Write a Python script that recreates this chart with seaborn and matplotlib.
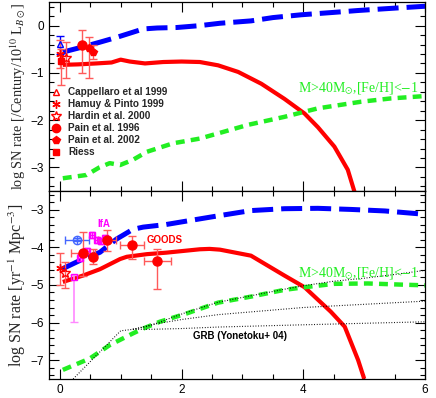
import numpy as np
import pandas as pd
import matplotlib
matplotlib.use("Agg")
import matplotlib.pyplot as plt
from matplotlib.ticker import MultipleLocator
from matplotlib.lines import Line2D
import seaborn as sns

# ---------------- data ----------------
# top panel curves
top_blue_x = [0.05, 0.38, 0.66, 0.93, 1.2, 1.37, 1.6, 1.92, 2.3, 2.63, 3.14, 3.5, 3.97, 4.5, 4.9, 5.5, 6.0]
top_blue_y = [-0.56, -0.45, -0.35, -0.25, -0.14, -0.07, -0.05, -0.04, 0.0, 0.05, 0.1, 0.17, 0.23, 0.28, 0.32, 0.37, 0.41]
top_red_x = [0.05, 0.3, 0.6, 0.85, 1.0, 1.15, 1.4, 1.7, 2.0, 2.3, 2.6, 2.93, 3.31, 3.69, 4.02, 4.24, 4.51, 4.73, 4.86]
top_red_y = [-0.83, -0.82, -0.80, -0.78, -0.72, -0.76, -0.80, -0.77, -0.76, -0.77, -0.84, -0.98, -1.23, -1.55, -1.86, -2.15, -2.56, -3.05, -3.6]
top_green_x = [0.05, 0.44, 0.65, 0.82, 0.99, 1.2, 1.43, 1.86, 2.3, 2.6, 3.09, 3.69, 4.24, 4.95, 5.44, 6.0]
top_green_y = [-3.23, -3.16, -3.0, -2.91, -2.95, -2.84, -2.67, -2.49, -2.39, -2.28, -2.1, -1.93, -1.75, -1.61, -1.54, -1.49]

# bottom panel curves
bot_blue_x = [0.03, 0.38, 0.66, 0.93, 1.2, 1.37, 1.75, 2.08, 2.6, 3.14, 3.69, 4.24, 4.79, 5.34, 6.0]
bot_blue_y = [-4.58, -4.31, -4.13, -3.78, -3.52, -3.46, -3.39, -3.3, -3.16, -3.02, -2.97, -2.96, -2.99, -3.03, -3.12]
bot_red_x = [0.05, 0.38, 0.66, 0.99, 1.1, 1.43, 1.75, 2.3, 2.46, 2.63, 3.14, 3.69, 4.02, 4.45, 4.68, 4.9, 5.0]
bot_red_y = [-4.92, -4.75, -4.58, -4.31, -4.25, -4.18, -4.14, -4.05, -4.04, -4.06, -4.22, -4.75, -5.06, -5.71, -6.11, -7.0, -7.5]
bot_green_x = [0.05, 0.49, 0.82, 1.2, 1.37, 1.64, 2.08, 2.6, 3.14, 3.69, 4.02, 4.51, 5.06, 5.6, 6.0]
bot_green_y = [-7.26, -6.96, -6.6, -6.29, -6.16, -5.98, -5.76, -5.47, -5.31, -5.13, -5.06, -4.97, -4.96, -4.99, -5.01]

# GRB dotted curves (Yonetoku+ 04)
grb1_x = [0.22, 1.0, 1.2, 1.45, 2.06, 2.6, 3.1, 3.7, 4.0, 4.5, 5.0, 5.5, 6.0]
grb1_y = [-7.5, -6.22, -6.18, -6.1, -5.74, -5.46, -5.3, -5.11, -5.02, -4.9, -4.82, -4.72, -4.61]
grb2_x = [1.2, 1.56, 2.0, 2.6, 4.0, 6.0]
grb2_y = [-6.18, -6.04, -5.92, -5.79, -5.6, -5.43]
grb3_x = [1.2, 1.5, 2.0, 2.6, 4.0, 6.0]
grb3_y = [-6.18, -6.18, -6.16, -6.12, -6.06, -5.98]

# top panel data points
cap_x, cap_y, cap_lo, cap_hi = [0.0], [-0.39], [0.2], [0.17]
ham_x, ham_y, ham_lo, ham_hi = [0.0], [-0.6], [0.3], [0.3]
har_x, har_y, har_lo, har_hi = [0.1], [-0.68], [0.42], [0.33]
p96_x, p96_y, p96_lo, p96_hi = [0.37], [-0.4], [0.6], [0.31]
p02_x, p02_y, p02_lo, p02_hi = [0.48, 0.55], [-0.48, -0.56], [0.62, 0.14], [0.23, 0.14]
rie_x, rie_y, rie_lo, rie_hi = [0.02], [-0.75], [0.5], [0.25]

# bottom panel data points
b_circ_x, b_circ_y, b_circ_xe, b_circ_ye = [0.28], [-3.79], [0.2], [0.05]
r_ast_x, r_ast_y, r_ast_lo, r_ast_hi = [0.0], [-4.55], [0.45], [0.4]
r_star_x, r_star_y, r_star_lo, r_star_hi = [0.09], [-4.69], [0.4], [0.3]
ifa_x = [0.33, 0.38, 0.45, 0.53, 0.61, 0.68, 0.74]
ifa_y = [-4.27, -4.16, -4.1, -3.67, -3.81, -3.82, -3.74]
ifa_e = [0.1, 0.1, 0.08, 0.08, 0.08, 0.08, 0.08]
ifa_low_x, ifa_low_y, ifa_low_lo, ifa_low_hi = [0.24], [-4.78], [1.2], [0.05]
goods_x = [0.38, 0.55, 0.78, 1.19, 1.6]
goods_y = [-4.15, -4.25, -3.8, -3.94, -4.36]
goods_lo = [0.6, 0.2, 0.3, 0.36, 0.74]
goods_hi = [0.55, 0.2, 0.25, 0.24, 0.31]
goods_xe = [0.2, 0.0, 0.15, 0.2, 0.22]

legend_labels = ["Cappellaro et al 1999", "Hamuy & Pinto 1999", "Hardin et al. 2000",
                 "Pain et al. 1996", "Pain et al. 2002", "Riess"]

# ---------------- style ----------------
sns.set_style("ticks")
plt.rcParams['font.family'] = ['Liberation Sans', 'DejaVu Sans']
plt.rcParams['mathtext.fontset'] = 'stix'

RED = '#ff0000'
BLUE = '#0000ff'
GREEN = '#22ee22'
MAG = '#ff00ff'
ERR = '#ff5a5a'

fig = plt.figure(figsize=(4.36, 3.98), dpi=100)
ax1 = fig.add_axes([0.112, 0.52, 0.863, 0.475])
ax2 = fig.add_axes([0.112, 0.048, 0.863, 0.472], sharex=ax1)


def curve(ax, x, y, color, lw, dashes=None, z=2):
    df = pd.DataFrame({"x": x, "y": y})
    sns.lineplot(data=df, x="x", y="y", ax=ax, color=color, linewidth=lw,
                 sort=False, estimator=None, zorder=z)
    ln = ax.lines[-1]
    if dashes is not None:
        ln.set_dashes(dashes)
    ln.set_solid_capstyle('butt')
    ln.set_dash_capstyle('butt')


# top panel
curve(ax1, top_blue_x, top_blue_y, BLUE, 3.6, dashes=(4.2, 1.6))
curve(ax1, top_red_x, top_red_y, RED, 3.0)
curve(ax1, top_green_x, top_green_y, GREEN, 3.2, dashes=(2.0, 1.4))

ek = dict(capsize=3, elinewidth=1.0, capthick=1.0, ecolor=ERR, linestyle='none')
ax1.errorbar(cap_x, cap_y, yerr=[cap_lo, cap_hi], marker='^', ms=5, mfc='none',
             mec=BLUE, color=BLUE, capsize=3, elinewidth=1.0, linestyle='none', zorder=4)
ax1.errorbar(ham_x, ham_y, yerr=[ham_lo, ham_hi], marker=(6, 2, 0), ms=6, mec=RED,
             color=RED, zorder=4, **ek)
ax1.errorbar(har_x, har_y, yerr=[har_lo, har_hi], marker='*', ms=7, mfc='none',
             mec=RED, color=RED, zorder=4, **ek)
ax1.errorbar(p96_x, p96_y, yerr=[p96_lo, p96_hi], marker='o', ms=6.5, mfc=RED,
             mec=RED, color=RED, zorder=4, **ek)
ax1.errorbar(p02_x, p02_y, yerr=[p02_lo, p02_hi], marker='p', ms=6, mfc=RED,
             mec=RED, color=RED, zorder=4, **ek)
ax1.errorbar(rie_x, rie_y, yerr=[rie_lo, rie_hi], marker='s', ms=4, mfc=RED,
             mec=RED, color=RED, zorder=4, **ek)

# legend proxies (markers only, red)
proxies = [
    Line2D([], [], marker='^', ms=5, mfc='none', mec=RED, ls='none'),
    Line2D([], [], marker=(6, 2, 0), ms=6, mec=RED, color=RED, ls='none'),
    Line2D([], [], marker='*', ms=7, mfc='none', mec=RED, ls='none'),
    Line2D([], [], marker='o', ms=6, mfc=RED, mec=RED, ls='none'),
    Line2D([], [], marker='p', ms=6, mfc=RED, mec=RED, ls='none'),
    Line2D([], [], marker='s', ms=4, mfc=RED, mec=RED, ls='none'),
]
ax1.legend(proxies, legend_labels, loc='upper left', bbox_to_anchor=(-0.005, 0.57),
           frameon=False, handlelength=1.0, handletextpad=0.7,
           labelspacing=0.2, borderaxespad=0.0, prop={'weight': 'bold', 'size': 7.2})

ax1.text(5.9, -1.33, r"M>40M$_{\odot}$,[Fe/H]<$-$1", color=GREEN, ha='right', va='center',
         fontsize=10, family='Liberation Serif')

# bottom panel
curve(ax2, grb1_x, grb1_y, 'black', 0.8, dashes=(0.8, 1.6), z=3)
curve(ax2, grb2_x, grb2_y, 'black', 0.8, dashes=(0.8, 1.6), z=3)
curve(ax2, grb3_x, grb3_y, 'black', 0.8, dashes=(0.8, 1.6), z=3)
curve(ax2, bot_blue_x, bot_blue_y, BLUE, 3.6, dashes=(4.2, 1.6))
curve(ax2, bot_red_x, bot_red_y, RED, 3.0)
curve(ax2, bot_green_x, bot_green_y, GREEN, 3.2, dashes=(2.0, 1.4))

ax2.errorbar(ifa_low_x, ifa_low_y, yerr=[ifa_low_lo, ifa_low_hi], marker='s', ms=5, mfc='none',
             mec=MAG, ecolor='#ff88ff', capsize=3, elinewidth=1.2, linestyle='none', zorder=4)
ax2.errorbar(ifa_x, ifa_y, yerr=ifa_e, xerr=0.03, marker='s', ms=5, mfc='none', mec=MAG,
             ecolor=MAG, capsize=2, elinewidth=1.0, linestyle='none', zorder=4)
ax2.errorbar(b_circ_x, b_circ_y, yerr=b_circ_ye, xerr=b_circ_xe, marker='o', ms=6, mfc='none',
             mec='#4466ff', ecolor='#4466ff', capsize=3, elinewidth=1.0, linestyle='none', zorder=4)
ax2.plot(b_circ_x, b_circ_y, marker='+', ms=6, color='#4466ff', ls='none', zorder=5)
ax2.errorbar(r_ast_x, r_ast_y, yerr=[r_ast_lo, r_ast_hi], marker=(6, 2, 0), ms=6, mec=RED,
             color=RED, zorder=4, **ek)
ax2.errorbar(r_star_x, r_star_y, yerr=[r_star_lo, r_star_hi], marker='*', ms=7, mfc='none',
             mec=RED, color=RED, zorder=4, **ek)
ax2.errorbar(goods_x, goods_y, yerr=[goods_lo, goods_hi], xerr=goods_xe, marker='o', ms=6.5,
             mfc=RED, mec=RED, color=RED, zorder=4, **ek)

ax2.text(0.72, -3.38, "IfA", color=MAG, fontsize=7, weight='bold', ha='center', va='center')
ax2.text(1.72, -3.8, "GOODS", color=RED, fontsize=7, weight='bold', ha='center', va='center')
ax2.text(2.96, -6.37, "GRB (Yonetoku+ 04)", color='black', fontsize=7, weight='bold',
         ha='center', va='center')
ax2.text(5.9, -4.7, r"M>40M$_{\odot}$,[Fe/H]<$-$1", color=GREEN, ha='right', va='center',
         fontsize=10, family='Liberation Serif')

# axes formatting
ax1.set_xlim(-0.18, 6.0)
ax1.set_ylim(-3.5, 0.5)
ax2.set_ylim(-7.5, -2.5)
ax1.set_yticks([0, -1, -2, -3])
ax2.set_yticks([-3, -4, -5, -6, -7])
ax2.set_xticks([0, 2, 4, 6])
for ax in (ax1, ax2):
    ax.xaxis.set_minor_locator(MultipleLocator(0.5))
    ax.yaxis.set_minor_locator(MultipleLocator(0.2))
    ax.tick_params(which='both', direction='in', top=True, right=True, labelsize=8.5,
                   width=0.8, colors='black')
    ax.tick_params(which='major', length=7)
    ax.tick_params(which='minor', length=3.5)
    for s in ax.spines.values():
        s.set_linewidth(0.9)
        s.set_color('black')
    ax.set_xlabel("")
plt.setp(ax1.get_xticklabels(), visible=False)

ax1.set_ylabel(r"log SN rate [/Century/10$^{10}$ L$_{B\odot}$]", fontsize=10.3,
               family='Liberation Serif', labelpad=2)
ax2.set_ylabel(r"log SN rate [yr$^{-1}$ Mpc$^{-3}$]", fontsize=11.5,
               family='Liberation Serif', labelpad=2)
fig.align_ylabels([ax1, ax2])

fig.savefig("out.png", dpi=100)
